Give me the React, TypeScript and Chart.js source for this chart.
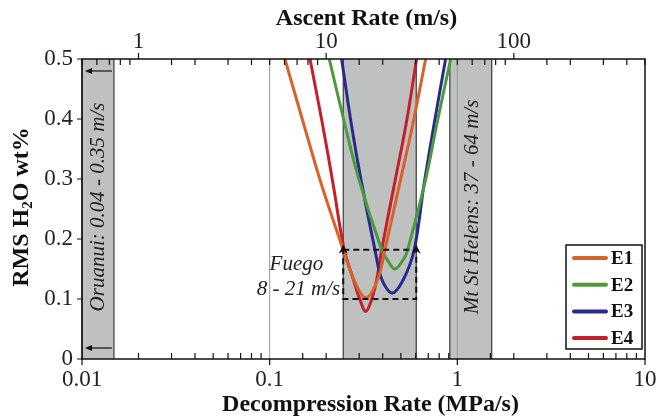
import React, { useEffect, useRef } from 'react';
import { Chart, registerables } from 'chart.js';

Chart.register(...registerables);

// ---------- data ----------
const seriesLabels = ['E1', 'E2', 'E3', 'E4'];
const seriesColors = ['#d8622b', '#4b9a3b', '#2a2a8c', '#c51f2a'];

// decompression rate (MPa/s) and RMS H2O wt%
const e1Rate = [0.1206, 0.1523, 0.1892, 0.2466, 0.2813, 0.3246, 0.3761, 0.4114, 0.491, 0.578, 0.678];
const e1Rms = [0.5, 0.39, 0.29, 0.182, 0.132, 0.102, 0.132, 0.182, 0.29, 0.39, 0.5];

const e2Rate = [0.2078, 0.2519, 0.2991, 0.3952, 0.4231, 0.4652, 0.515, 0.5436, 0.6778, 0.7757, 0.9211];
const e2Rms = [0.5, 0.39, 0.299, 0.182, 0.1655, 0.15, 0.1655, 0.182, 0.299, 0.39, 0.5];

const e3Rate = [0.2418, 0.2728, 0.3065, 0.3639, 0.3966, 0.45, 0.515, 0.5893, 0.6638, 0.7505, 0.8661];
const e3Rms = [0.5, 0.39, 0.299, 0.182, 0.132, 0.11, 0.132, 0.182, 0.29, 0.39, 0.5];

const e4Rate = [0.164, 0.1916, 0.2182, 0.2497, 0.2796, 0.3028, 0.3246, 0.3494, 0.3716, 0.3952, 0.4611, 0.5324, 0.6069];
const e4Rms = [0.5, 0.39, 0.29, 0.182, 0.132, 0.099, 0.079, 0.099, 0.132, 0.182, 0.29, 0.39, 0.5];

const seriesRates = [e1Rate, e2Rate, e3Rate, e4Rate];
const seriesRms = [e1Rms, e2Rms, e3Rms, e4Rms];

// shaded eruption bands (decompression rate, MPa/s)
const bandFrom = [0.01, 0.2466, 0.912];
const bandTo = [0.0148, 0.604, 1.525];

// dashed Fuego box
const boxRate = [0.2466, 0.604];
const boxRms = [0.1, 0.182];

// vertical reference lines
const refLines = [0.1, 1];

// axis ranges
const xRange = [0.01, 10];
const ascentFactor = 50; // ascent rate (m/s) per decompression rate (MPa/s)
const yRange = [0, 0.5];
const yStep = 0.1;

const bandTexts = ['Oruanui: 0.04 - 0.35 m/s', 'Mt St Helens: 37 - 64 m/s'];
const fuegoTexts = ['Fuego', '8 - 21 m/s'];

const FONT = "'Liberation Serif', 'Times New Roman', Times, serif";

const isPow10 = (v: number) => {
  const l = Math.log10(v);
  return Math.abs(l - Math.round(l)) < 1e-6;
};
const fmtPow = (v: number) => String(Number(v.toPrecision(2)));

const overlayPlugin = {
  id: 'overlay',
  beforeDraw(chart: any) {
    const ctx = chart.ctx;
    const { top, bottom } = chart.chartArea;
    const xs = chart.scales.x;
    ctx.save();
    for (let i = 0; i < bandFrom.length; i++) {
      const a = xs.getPixelForValue(bandFrom[i]);
      const b = xs.getPixelForValue(bandTo[i]);
      ctx.fillStyle = '#bfc1c1';
      ctx.fillRect(a, top, b - a, bottom - top);
      ctx.strokeStyle = '#3a3a3a';
      ctx.lineWidth = 1.2;
      ctx.beginPath();
      ctx.moveTo(a, top);
      ctx.lineTo(a, bottom);
      ctx.moveTo(b, top);
      ctx.lineTo(b, bottom);
      ctx.stroke();
    }
    ctx.strokeStyle = '#9a9a9a';
    ctx.lineWidth = 1;
    for (const r of refLines) {
      const p = xs.getPixelForValue(r);
      ctx.beginPath();
      ctx.moveTo(p, top);
      ctx.lineTo(p, bottom);
      ctx.stroke();
    }
    ctx.restore();
  },
  afterDatasetsDraw(chart: any) {
    const ctx = chart.ctx;
    const { left, right, top, bottom } = chart.chartArea;
    const xs = chart.scales.x;
    const xt = chart.scales.xTop;
    const ys = chart.scales.y;
    ctx.save();

    // dashed box
    const bx0 = xs.getPixelForValue(boxRate[0]);
    const bx1 = xs.getPixelForValue(boxRate[1]);
    const by0 = ys.getPixelForValue(boxRms[0]);
    const by1 = ys.getPixelForValue(boxRms[1]);
    ctx.strokeStyle = '#111';
    ctx.lineWidth = 2;
    ctx.setLineDash([6, 4]);
    ctx.strokeRect(bx0, by1, bx1 - bx0, by0 - by1);
    ctx.setLineDash([]);
    ctx.fillStyle = '#111';
    for (const bx of [bx0, bx1]) {
      ctx.beginPath();
      ctx.moveTo(bx, by1 - 5);
      ctx.lineTo(bx - 4.5, by1 + 4);
      ctx.lineTo(bx, by1 + 1);
      ctx.lineTo(bx + 4.5, by1 + 4);
      ctx.closePath();
      ctx.fill();
    }

    // Fuego text
    ctx.fillStyle = '#222';
    ctx.font = `italic 21px ${FONT}`;
    ctx.textAlign = 'right';
    ctx.textBaseline = 'middle';
    ctx.fillText(fuegoTexts[0], bx0 - 20, by1 + 15);
    ctx.fillText(fuegoTexts[1], bx0 - 3, by1 + 40);

    // rotated band texts
    const oa = xs.getPixelForValue(bandFrom[0]);
    const ob = xs.getPixelForValue(bandTo[0]);
    const ma = xs.getPixelForValue(bandFrom[2]);
    const mb = xs.getPixelForValue(bandTo[2]);
    const midY = (top + bottom) / 2 - 2;
    ctx.textAlign = 'center';
    ctx.save();
    ctx.translate((oa + ob) / 2 + 1, midY);
    ctx.rotate(-Math.PI / 2);
    ctx.fillText(bandTexts[0], 0, 0);
    ctx.restore();
    ctx.save();
    ctx.translate((ma + mb) / 2 + 2, midY);
    ctx.rotate(-Math.PI / 2);
    ctx.fillText(bandTexts[1], 0, 0);
    ctx.restore();

    // Oruanui arrows
    ctx.strokeStyle = '#111';
    ctx.fillStyle = '#111';
    ctx.lineWidth = 1.2;
    for (const ay of [top + 12, bottom - 11]) {
      ctx.beginPath();
      ctx.moveTo(ob - 2, ay);
      ctx.lineTo(oa + 6, ay);
      ctx.stroke();
      ctx.beginPath();
      ctx.moveTo(oa + 3, ay);
      ctx.lineTo(oa + 10, ay - 3);
      ctx.lineTo(oa + 10, ay + 3);
      ctx.closePath();
      ctx.fill();
    }

    // tick marks
    ctx.strokeStyle = '#111';
    ctx.lineWidth = 1.2;
    ctx.beginPath();
    for (const t of xs.ticks) {
      const p = xs.getPixelForValue(t.value);
      if (isPow10(t.value)) {
        ctx.moveTo(p, bottom);
        ctx.lineTo(p, bottom + 6);
      } else {
        ctx.moveTo(p, bottom);
        ctx.lineTo(p, bottom - 6);
      }
    }
    for (const t of xt.ticks) {
      const p = xt.getPixelForValue(t.value);
      if (isPow10(t.value)) {
        ctx.moveTo(p, top);
        ctx.lineTo(p, top - 6);
      } else {
        ctx.moveTo(p, top);
        ctx.lineTo(p, top + 6);
      }
    }
    for (const t of ys.ticks) {
      const p = ys.getPixelForValue(t.value);
      ctx.moveTo(left - 5, p);
      ctx.lineTo(left, p);
    }
    ctx.stroke();

    // frame
    ctx.lineWidth = 1.5;
    ctx.strokeRect(left, top, right - left, bottom - top);

    // legend
    const lw = 76;
    const lh = 104;
    const lx = right - 3 - lw;
    const ly = bottom - 10 - lh;
    ctx.fillStyle = '#fff';
    ctx.fillRect(lx, ly, lw, lh);
    ctx.lineWidth = 1.5;
    ctx.strokeStyle = '#111';
    ctx.strokeRect(lx, ly, lw, lh);
    ctx.font = `bold 19px ${FONT}`;
    ctx.textAlign = 'left';
    ctx.textBaseline = 'middle';
    chart.data.datasets.forEach((ds: any, i: number) => {
      const yy = ly + 13 + i * 26.7;
      ctx.strokeStyle = ds.borderColor;
      ctx.lineWidth = 4;
      ctx.lineCap = 'round';
      ctx.beginPath();
      ctx.moveTo(lx + 8, yy);
      ctx.lineTo(lx + 40, yy);
      ctx.stroke();
      ctx.fillStyle = '#111';
      ctx.fillText(ds.label, lx + 45, yy + 1);
    });
    ctx.lineCap = 'butt';

    // axis titles
    ctx.fillStyle = '#111';
    ctx.font = `bold 24px ${FONT}`;
    ctx.textAlign = 'center';
    ctx.textBaseline = 'middle';
    const cx = (left + right) / 2;
    ctx.fillText('Ascent Rate (m/s)', cx + 3, 19);
    ctx.fillText('Decompression Rate (MPa/s)', cx + 7, 405);

    // y title with subscript
    ctx.save();
    ctx.translate(22, (top + bottom) / 2 - 2);
    ctx.rotate(-Math.PI / 2);
    const big = `bold 24px ${FONT}`;
    const small = `bold 15px ${FONT}`;
    const parts = [
      { t: 'RMS H', f: big, dy: 0 },
      { t: '2', f: small, dy: 6 },
      { t: 'O wt%', f: big, dy: 0 },
    ];
    let total = 0;
    for (const pt of parts) {
      ctx.font = pt.f;
      total += ctx.measureText(pt.t).width;
    }
    let px = -total / 2;
    ctx.textAlign = 'left';
    for (const pt of parts) {
      ctx.font = pt.f;
      ctx.fillText(pt.t, px, pt.dy);
      px += ctx.measureText(pt.t).width;
    }
    ctx.restore();

    ctx.restore();
  },
};

const noSidePadding = (s: any) => {
  s.paddingLeft = 0;
  s.paddingRight = 0;
};

export default function App() {
  const ref = useRef<HTMLCanvasElement | null>(null);
  useEffect(() => {
    const canvas = ref.current;
    if (!canvas) return;
    const tickFont = { family: FONT, size: 23 };
    const chart = new Chart(canvas, {
      type: 'line',
      data: {
        datasets: seriesLabels.map((label, i) => ({
          label,
          data: seriesRates[i].map((r, j) => ({ x: r, y: seriesRms[i][j] })),
          borderColor: seriesColors[i],
          backgroundColor: seriesColors[i],
          borderWidth: 3,
          pointRadius: 0,
          fill: false,
          tension: 0.35,
        })),
      },
      options: {
        animation: false,
        responsive: false,
        devicePixelRatio: 1,
        layout: { padding: { left: 0, right: 15, top: 0, bottom: 0 } },
        plugins: { legend: { display: false }, tooltip: { enabled: false } },
        scales: {
          x: {
            type: 'logarithmic',
            position: 'bottom',
            min: xRange[0],
            max: xRange[1],
            afterFit: (s: any) => {
              s.height = 61;
              noSidePadding(s);
            },
            ticks: {
              autoSkip: false,
              maxRotation: 0,
              padding: 7,
              color: '#222',
              font: tickFont,
              callback: (v: any) => (isPow10(Number(v)) ? fmtPow(Number(v)) : ''),
            },
            grid: { display: false, drawTicks: false },
            border: { display: false },
          },
          xTop: {
            type: 'logarithmic',
            position: 'top',
            min: xRange[0] * ascentFactor,
            max: xRange[1] * ascentFactor,
            afterFit: (s: any) => {
              s.height = 59;
              noSidePadding(s);
            },
            ticks: {
              autoSkip: false,
              maxRotation: 0,
              padding: 3,
              color: '#222',
              font: tickFont,
              callback: (v: any) => (isPow10(Number(v)) ? fmtPow(Number(v)) : ''),
            },
            grid: { display: false, drawTicks: false },
            border: { display: false },
          },
          y: {
            type: 'linear',
            min: yRange[0],
            max: yRange[1],
            afterFit: (s: any) => {
              s.width = 82;
            },
            ticks: {
              stepSize: yStep,
              padding: 9,
              color: '#222',
              font: tickFont,
              callback: (v: any) => String(Number(Number(v).toFixed(1))),
            },
            grid: { display: false, drawTicks: false },
            border: { display: false },
          },
        },
      } as any,
      plugins: [overlayPlugin],
    });
    return () => chart.destroy();
  }, []);
  return (
    <div style={{ position: 'fixed', left: 0, top: 0, width: 660, height: 420, background: '#fff' }}>
      <canvas ref={ref} width={660} height={420} style={{ display: 'block', width: 660, height: 420 }} />
    </div>
  );
}
